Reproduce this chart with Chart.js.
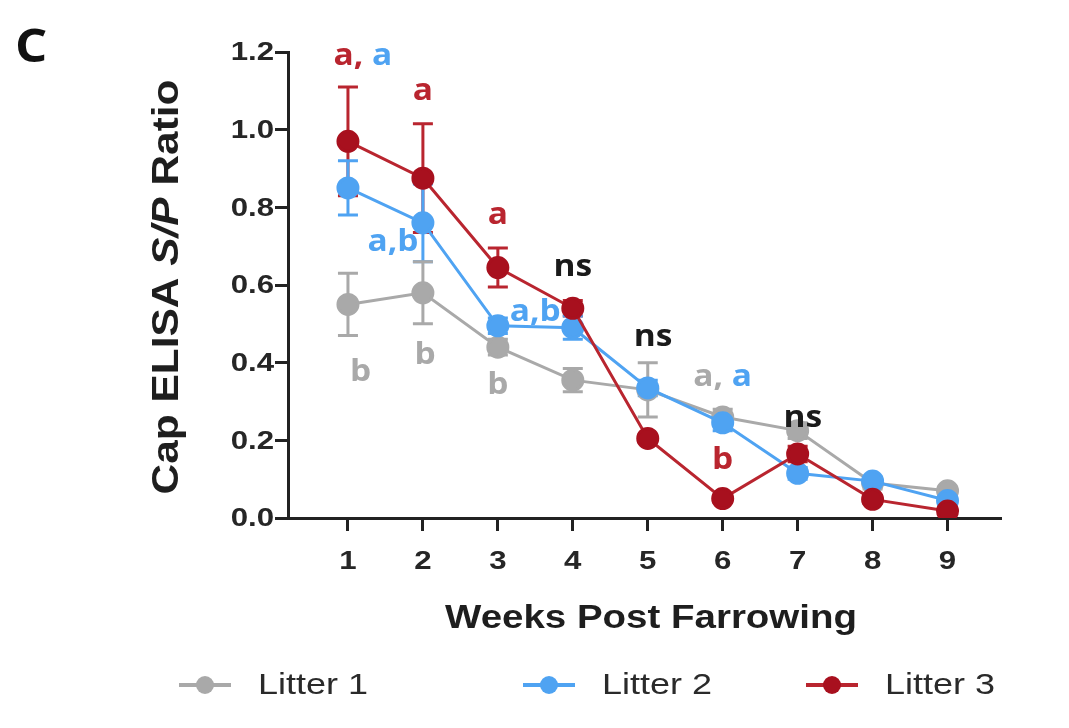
<!DOCTYPE html>
<html><head><meta charset="utf-8">
<script src="https://cdn.jsdelivr.net/npm/chart.js@4.4.1/dist/chart.umd.min.js"></script>
<style>html,body{margin:0;padding:0;background:#fff;}#wrap{width:1069px;height:728px;position:relative;}</style>
</head><body><div id="wrap"><canvas id="c" width="1069" height="728"></canvas></div>
<script>
const weeks = [1,2,3,4,5,6,7,8,9];
const yTicks = [0,0.2,0.4,0.6,0.8,1.0,1.2];
const litter1 = [0.55,0.58,0.44,0.355,0.33,0.26,0.225,0.09,0.07];
const litter1Err = [0.08,0.08,0.02,0.03,0.07,0.02,0.02,0.015,0.01];
const litter2 = [0.85,0.76,0.495,0.49,0.335,0.245,0.115,0.095,0.045];
const litter2Err = [0.07,0.1,0.02,0.03,0.02,0.02,0.015,0.01,0.01];
const litter3 = [0.97,0.875,0.645,0.54,0.205,0.05,0.165,0.048,0.018];
const litter3Err = [0.14,0.14,0.05,0.02,0.01,0.01,0.02,0.01,0.01];
const seriesNames = ['Litter 1','Litter 2','Litter 3'];

const GRAY = '#a9a9a9', BLUE = '#4fa3f2', RED = '#a8101e', RED_LINE = '#b9252f', BLACK = '#1a1a1a';
const annotX = [1.2, 2, 1.6, 3, 4, 3.5, 1.17, 2.03, 3, 5.07, 6.0, 7.07, 6];
const annotY = [1.19, 1.10, 0.71, 0.78, 0.645, 0.53, 0.376, 0.42, 0.343, 0.466, 0.363, 0.258, 0.15];
const annotText = [
  [['a, ','r'],['a','b']], [['a','r']], [['a,b','b']], [['a','r']], [['ns','k']],
  [['a,b','b']], [['b','g']], [['b','g']], [['b','g']], [['ns','k']],
  [['a, ','g'],['a','b']], [['ns','k']], [['b','r']]
];
const colorKey = {r: RED_LINE, b: BLUE, g: GRAY, k: BLACK};

const errs = [litter1Err, litter2Err, litter3Err];
const errColors = [GRAY, BLUE, RED_LINE];
const SANS = '"Liberation Sans", Arial, sans-serif';
const SX = 1.2;

function stretchText(ctx, str, x, y, sx, align) {
  const w = ctx.measureText(str).width * sx;
  let left = x;
  if (align === 'center') left = x - w / 2;
  else if (align === 'right') left = x - w;
  ctx.save();
  ctx.translate(left, y);
  ctx.scale(sx, 1);
  ctx.textAlign = 'left';
  ctx.fillText(str, 0, 0);
  ctx.restore();
  return w;
}

const errorBarPlugin = {
  id: 'errbars',
  beforeDatasetsDraw(chart) {
    const xs = chart.scales.x, ys = chart.scales.y;
    const ctx = chart.ctx;
    ctx.save();
    ctx.lineWidth = 3;
    [2, 1, 0].forEach(i => {
      const ds = chart.data.datasets[i];
      ctx.strokeStyle = errColors[i];
      ds.data.forEach((p, j) => {
        const e = errs[i][j];
        const px = xs.getPixelForValue(p.x);
        const t = ys.getPixelForValue(p.y + e), b = ys.getPixelForValue(Math.max(0, p.y - e));
        ctx.beginPath();
        ctx.moveTo(px, t); ctx.lineTo(px, b);
        ctx.moveTo(px - 10, t); ctx.lineTo(px + 10, t);
        ctx.moveTo(px - 10, b); ctx.lineTo(px + 10, b);
        ctx.stroke();
      });
    });
    ctx.restore();
  }
};

const decorPlugin = {
  id: 'decor',
  afterDraw(chart) {
    const ctx = chart.ctx, xs = chart.scales.x, ys = chart.scales.y;
    ctx.save();
    // tick labels
    ctx.fillStyle = '#262626';
    ctx.font = 'bold 26px ' + SANS;
    ctx.textBaseline = 'middle';
    yTicks.forEach(v => stretchText(ctx, v.toFixed(1), 274, ys.getPixelForValue(v) + 1, SX, 'right'));
    weeks.forEach(v => stretchText(ctx, String(v), xs.getPixelForValue(v), 562, SX, 'center'));
    // annotations
    ctx.font = 'bold 31px "Open Sans", ' + SANS;
    annotText.forEach((parts, k) => {
      const total = parts.reduce((s, p) => s + ctx.measureText(p[0]).width * 1.08, 0);
      let x = xs.getPixelForValue(annotX[k]) - total / 2;
      const y = ys.getPixelForValue(annotY[k]);
      parts.forEach(p => {
        ctx.fillStyle = colorKey[p[1]];
        x += stretchText(ctx, p[0], x, y, 1.08, 'left');
      });
    });
    // panel letter
    ctx.fillStyle = '#111';
    ctx.textBaseline = 'alphabetic';
    ctx.font = 'bold 47px "Open Sans", ' + SANS;
    stretchText(ctx, 'C', 15, 62, 1.08, 'left');
    // x title
    ctx.font = 'bold 33px ' + SANS;
    ctx.fillStyle = '#1e1e1e';
    const xt = 'Weeks Post Farrowing';
    stretchText(ctx, xt, 651, 628, 412 / ctx.measureText(xt).width, 'center');
    // y title with italic S/P
    ctx.save();
    ctx.translate(168, 287);
    ctx.rotate(-Math.PI / 2);
    ctx.textBaseline = 'middle';
    const segs = [['Cap ELISA ', 'bold 36px ' + SANS],
                  ['S/P', 'italic bold 36px ' + SANS],
                  [' Ratio', 'bold 36px ' + SANS]];
    let tw = 0;
    segs.forEach(s => { ctx.font = s[1]; tw += ctx.measureText(s[0]).width; });
    const ysx = 415 / tw;
    let sx = -415 / 2;
    segs.forEach(s => { ctx.font = s[1]; sx += stretchText(ctx, s[0], sx, 0, ysx, 'left'); });
    ctx.restore();
    // legend
    const legX = [205, 549, 832];
    const cols = [GRAY, BLUE, RED];
    const lineCols = [GRAY, BLUE, RED_LINE];
    const ly = 685;
    ctx.font = '30px ' + SANS;
    ctx.textBaseline = 'middle';
    seriesNames.forEach((n, k) => {
      ctx.strokeStyle = lineCols[k]; ctx.lineWidth = 4;
      ctx.beginPath(); ctx.moveTo(legX[k] - 26, ly); ctx.lineTo(legX[k] + 26, ly); ctx.stroke();
      ctx.fillStyle = cols[k];
      ctx.beginPath(); ctx.arc(legX[k], ly, 9, 0, Math.PI * 2); ctx.fill();
      ctx.fillStyle = '#2a2a2a';
      stretchText(ctx, n, legX[k] + 53, ly + 1, SX, 'left');
    });
    ctx.restore();
  }
};

function mk(vals) { return weeks.map((w, i) => ({x: w, y: vals[i]})); }

new Chart(document.getElementById('c'), {
  type: 'line',
  data: {
    datasets: [
      {label: seriesNames[0], data: mk(litter1), borderColor: GRAY, backgroundColor: GRAY, pointBackgroundColor: GRAY, pointBorderColor: GRAY, borderWidth: 3, pointRadius: 10, order: 2},
      {label: seriesNames[1], data: mk(litter2), borderColor: BLUE, backgroundColor: BLUE, pointBackgroundColor: BLUE, pointBorderColor: BLUE, borderWidth: 3, pointRadius: 10, order: 1},
      {label: seriesNames[2], data: mk(litter3), borderColor: RED_LINE, backgroundColor: RED, pointBackgroundColor: RED, pointBorderColor: RED, borderWidth: 3, pointRadius: 10, order: 0}
    ]
  },
  options: {
    responsive: false, animation: false,
    layout: {padding: {left: 0, right: 69, top: 52, bottom: 0}},
    plugins: {legend: {display: false}, tooltip: {enabled: false}},
    scales: {
      x: {
        type: 'linear', min: 0.2, max: 9.7,
        afterBuildTicks(s) { s.ticks = weeks.map(v => ({value: v})); },
        afterFit(s) { s.height = 210; },
        grid: {drawOnChartArea: false, drawTicks: true, tickLength: 13, color: '#222', lineWidth: 3},
        border: {color: '#222', width: 3},
        ticks: {display: false}
      },
      y: {
        min: 0, max: 1.2,
        afterBuildTicks(s) { s.ticks = yTicks.map(v => ({value: v})); },
        afterFit(s) { s.width = 288; },
        grid: {drawOnChartArea: false, drawTicks: true, tickLength: 13, color: '#222', lineWidth: 3},
        border: {color: '#222', width: 3},
        ticks: {display: false}
      }
    }
  },
  plugins: [errorBarPlugin, decorPlugin]
});
</script></body></html>
